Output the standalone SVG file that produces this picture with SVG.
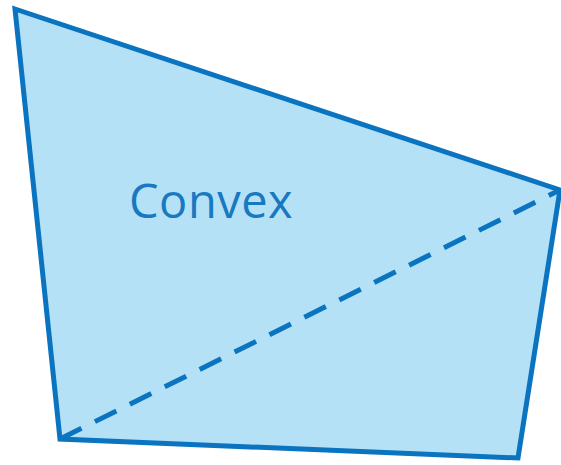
<svg xmlns="http://www.w3.org/2000/svg" width="561" height="465" viewBox="0 0 561 465">
<style>
.shape{fill:#b5e1f6;stroke:#0b74c0;stroke-width:5;stroke-linejoin:miter}
.diag{stroke:#0b74c0;stroke-width:5;stroke-dasharray:24 15;fill:none}
.lbl{font-family:"Open Sans","Noto Sans",sans-serif;font-size:47px;fill:#1878c0;letter-spacing:0.5px}
</style>
<rect width="561" height="465" fill="#ffffff"/>
<g id="quad">
<polygon class="shape" points="15,9 560,190 518,458 60,439"/>
</g>
<g id="connectors">
<line class="diag" x1="60" y1="439" x2="560" y2="190"/>
</g>
<g id="label">
<text class="lbl" x="129" y="218">Convex</text>
</g>
</svg>
